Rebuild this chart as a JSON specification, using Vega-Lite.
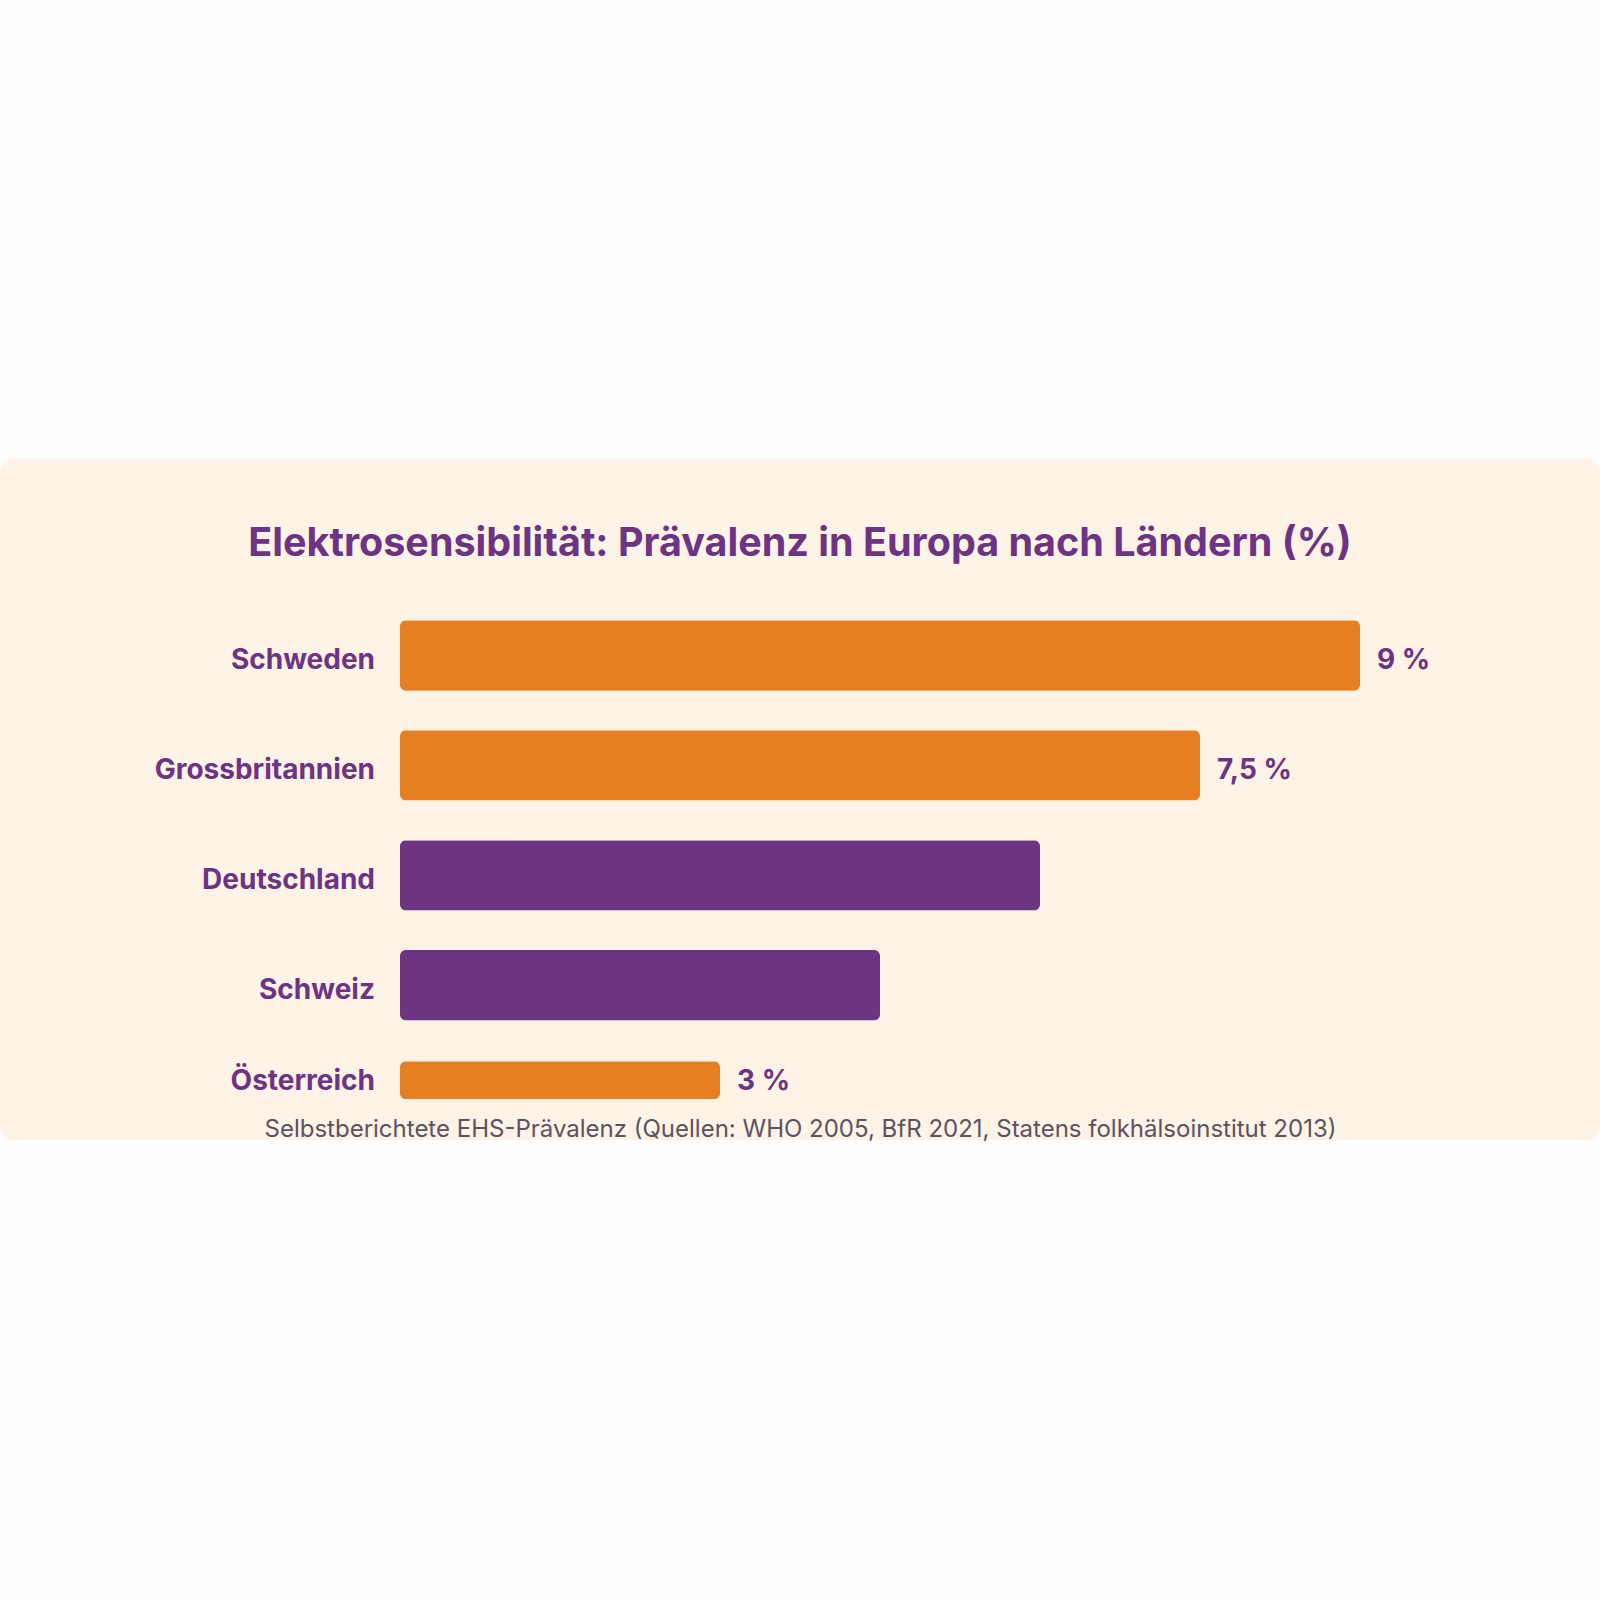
{
  "$schema": "https://vega.github.io/schema/vega-lite/v6.json",
  "background": "#fefefe",
  "autosize": "none",
  "width": 1600,
  "height": 681,
  "padding": {"left": 0, "right": 0, "top": 459, "bottom": 460},
  "title": {
    "text": "Elektrosensibilität: Prävalenz in Europa nach Ländern (%)",
    "font": "Inter",
    "fontSize": 39.5,
    "fontWeight": "bold",
    "color": "#6c3483",
    "anchor": "middle",
    "frame": "group",
    "baseline": "alphabetic",
    "offset": -136
  },
  "data": {
    "values": [
      {"land": "Schweden", "wert": 9, "gruppe": "hoch", "label": "9 %"},
      {"land": "Grossbritannien", "wert": 7.5, "gruppe": "hoch", "label": "7,5 %"},
      {"land": "Deutschland", "wert": 6, "gruppe": "mittel"},
      {"land": "Schweiz", "wert": 4.5, "gruppe": "mittel"},
      {"land": "Österreich", "wert": 3, "gruppe": "hoch", "label": "3 %"}
    ]
  },
  "encoding": {
    "y": {
      "field": "land",
      "type": "nominal",
      "sort": null,
      "axis": null,
      "scale": {"paddingInner": 0.36, "paddingOuter": 0.7773, "align": 0.9437}
    },
    "x": {
      "field": "wert",
      "type": "quantitative",
      "scale": {"domain": [-3.75, 11.25], "nice": false, "zero": false},
      "axis": {
        "title": "Selbstberichtete EHS-Prävalenz (Quellen: WHO 2005, BfR 2021, Statens folkhälsoinstitut 2013)",
        "titleFont": "Inter",
        "titleFontSize": 24,
        "titleFontWeight": "normal",
        "titleColor": "#5b5263",
        "titleBaseline": "alphabetic",
        "titleY": -4,
        "labels": false,
        "ticks": false,
        "domain": false,
        "grid": false
      }
    }
  },
  "layer": [
    {
      "transform": [{"filter": "datum.land !== 'Österreich'"}],
      "mark": {"type": "bar", "cornerRadius": 6},
      "encoding": {
        "color": {
          "field": "gruppe",
          "type": "nominal",
          "scale": {"domain": ["hoch", "mittel"], "range": ["#e67e22", "#6c3483"]},
          "legend": null
        }
      }
    },
    {
      "transform": [{"filter": "datum.land === 'Österreich'"}],
      "mark": {"type": "bar", "cornerRadius": 6, "height": 38, "yOffset": -15},
      "encoding": {
        "color": {"field": "gruppe", "type": "nominal", "legend": null}
      }
    },
    {
      "transform": [{"filter": "datum.land !== 'Österreich'"}],
      "mark": {"type": "text", "align": "right", "baseline": "middle", "dx": -25, "dy": 6, "font": "Inter", "fontSize": 28, "fontWeight": "bold", "color": "#6c3483"},
      "encoding": {"x": {"datum": 0}, "text": {"field": "land"}}
    },
    {
      "transform": [{"filter": "datum.land === 'Österreich'"}],
      "mark": {"type": "text", "align": "right", "baseline": "middle", "dx": -25, "dy": 2, "yOffset": -15, "font": "Inter", "fontSize": 28, "fontWeight": "bold", "color": "#6c3483"},
      "encoding": {"x": {"datum": 0}, "text": {"field": "land"}}
    },
    {
      "transform": [{"filter": "isValid(datum.label) && datum.land !== 'Österreich'"}],
      "mark": {"type": "text", "align": "left", "baseline": "middle", "dx": 17, "dy": 6, "font": "Inter", "fontSize": 28, "fontWeight": "bold", "color": "#6c3483"},
      "encoding": {"text": {"field": "label"}}
    },
    {
      "transform": [{"filter": "datum.land === 'Österreich'"}],
      "mark": {"type": "text", "align": "left", "baseline": "middle", "dx": 17, "dy": 2, "yOffset": -15, "font": "Inter", "fontSize": 28, "fontWeight": "bold", "color": "#6c3483"},
      "encoding": {"text": {"field": "label"}}
    }
  ],
  "config": {
    "view": {"fill": "#fdf3e6", "stroke": null, "cornerRadius": 14}
  }
}
